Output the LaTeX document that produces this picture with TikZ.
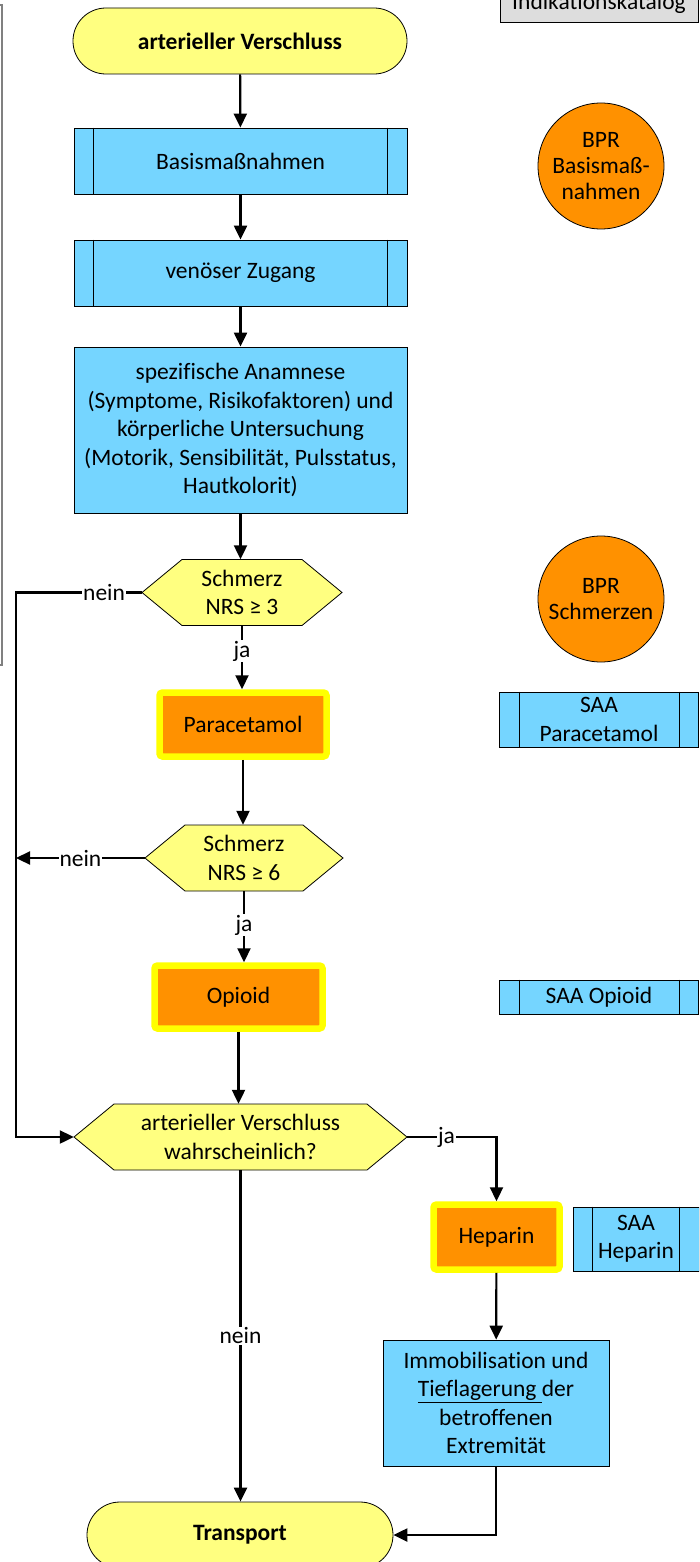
\documentclass[tikz,border=0pt]{standalone}
\usepackage{fontspec}
\setmainfont[Ligatures=NoCommon]{Carlito}
\usepackage{tikz}
\usetikzlibrary{calc}
\usetikzlibrary{arrows.meta}
\definecolor{termyellow}{RGB}{255,255,128}
\definecolor{procblue}{RGB}{117,213,255}
\definecolor{medorange}{RGB}{255,145,0}
\definecolor{hlyellow}{RGB}{255,255,0}
\definecolor{katgray}{RGB}{221,221,221}
\tikzset{
  every node/.style={font=\fontsize{23.5}{28.5}\selectfont, align=center},
  startstop/.style={draw, fill=termyellow, line width=0.8pt, rounded corners=32.9pt, minimum height=66, font=\fontsize{23.5}{28.5}\selectfont\bfseries},
  procbox/.style={draw, fill=procblue, line width=0.8pt, inner sep=0pt},
  medbox/.style={draw=hlyellow, fill=medorange, line width=6.5pt, rounded corners=3pt, inner sep=0pt},
  bprcircle/.style={circle, draw, fill=medorange, line width=0.8pt, minimum size=126, inner sep=0pt, font=\fontsize{23.5}{26}\selectfont},
  decnode/.style={inner sep=0pt, minimum height=66},
  lbl/.style={fill=white, inner sep=1pt},
  arr/.style={line width=2.2pt, -{Triangle[length=14pt,width=13pt]}}
}
% predefined process box: name, position, text, width, height
\newcommand{\subproc}[5]{ \node[procbox,minimum width=#4,minimum height=#5] (#1) at (#2) {#3};
  \draw[line width=0.8pt] ($(#1.north west)+(20,0)$) -- ($(#1.south west)+(20,0)$);
  \draw[line width=0.8pt] ($(#1.north east)+(-20,0)$) -- ($(#1.south east)+(-20,0)$);}
% decision hexagon: name, x, y, half width, text
\newcommand{\decision}[5]{ \filldraw[fill=termyellow, line width=0.8pt] (#2-#4,#3) -- (#2-#4+40,#3-33) -- (#2+#4-40,#3-33) -- (#2+#4,#3) -- (#2+#4-40,#3+33) -- (#2-#4+40,#3+33) -- cycle;
  \node[decnode,minimum width=2*#4] (#1) at (#2,#3) {#5};}

\begin{document}
\begin{tikzpicture}[x=1pt,y=-1pt]
    \useasboundingbox (0,0) rectangle (699,1562);
    \clip (0,0) rectangle (699,1562);
    % frame at left edge
    \draw[gray, line width=1.5pt] (-3,5) -- (2,5) -- (2,665) -- (-3,665);
    % catalog box
    \node[draw, fill=katgray, line width=0.8pt, minimum width=198, minimum height=38] (kat) at (599,3) {Indikationskatalog};
    % main column
    \node[startstop, minimum width=334] (start) at (240,41) {arterieller Verschluss};
    \subproc{basis}{240.5,161}{Basismaßnahmen}{333}{66}
    \subproc{zugang}{240.5,273}{venöser Zugang}{333}{66}
    \node[procbox, minimum width=333, minimum height=166] (anamnese) at (240.5,430) {spezifische Anamnese\\(Symptome, Risikofaktoren) und\\körperliche Untersuchung\\(Motorik, Sensibilität, Pulsstatus,\\Hautkolorit)};
    \decision{schmerzA}{242}{592.5}{100}{Schmerz\\NRS ≥ 3}
    \node[medbox, minimum width=167, minimum height=64] (para) at (243,724.5) {Paracetamol};
    \decision{schmerzB}{244}{858}{99}{Schmerz\\NRS ≥ 6}
    \node[medbox, minimum width=168, minimum height=63] (opioid) at (238.5,997) {Opioid};
    \decision{verschluss}{240.5}{1137}{166.5}{arterieller Verschluss\\wahrscheinlich?}
    \node[medbox, minimum width=126, minimum height=65] (heparin) at (496.5,1237) {Heparin};
    \node[procbox, minimum width=226, minimum height=126] (immob) at (496,1403) {Immobilisation und\\\underline{Tieflagerung\ }der\\betroffenen\\Extremität};
    \node[startstop, minimum width=306] (transport) at (240,1535) {Transport};
    % right column
    \node[bprcircle] (bprBasis) at (601,166) {BPR\\Basismaß-\\nahmen};
    \node[bprcircle] (bprSchmerz) at (601,599) {BPR\\Schmerzen};
    \subproc{saaPara}{599,719.5}{SAA\\Paracetamol}{199}{55}
    \subproc{saaOpioid}{599,997}{SAA Opioid}{199}{34}
    \subproc{saaHeparin}{636,1239}{SAA\\Heparin}{126}{64}
    % arrows
    \draw[arr] (start) -- (basis);
    \draw[arr] (basis) -- (zugang);
    \draw[arr] (zugang) -- (anamnese);
    \draw[arr] (anamnese.south) -- (anamnese.south |- schmerzA.north);
    \draw[arr] (schmerzA.south) -- node[lbl,pos=0.4] {ja} (schmerzA.south |- para.north);
    \draw[arr] (para.south) -- (para.south |- schmerzB.north);
    \draw[arr] (schmerzB.south) -- node[lbl,pos=0.48] {ja} (schmerzB.south |- opioid.north);
    \draw[arr] (opioid.south) -- (opioid.south |- verschluss.north);
    \draw[arr] (verschluss.south) -- node[lbl] {nein} (verschluss.south |- transport.north);
    \draw[arr] (verschluss.east) -| node[lbl,pos=0.22] {ja} (heparin.north);
    \draw[arr] (heparin) -- (immob);
    \draw[arr] (immob.south) |- (transport.east);
    % nein loop
    \coordinate (loopL) at (16,592.5);
    \draw[arr] (schmerzA.west) -- node[lbl,pos=0.3] {nein} (loopL) |- (verschluss.west);
    \draw[arr] (schmerzB.west) -- node[lbl] {nein} (schmerzB.west -| loopL);
\end{tikzpicture}
\end{document}
